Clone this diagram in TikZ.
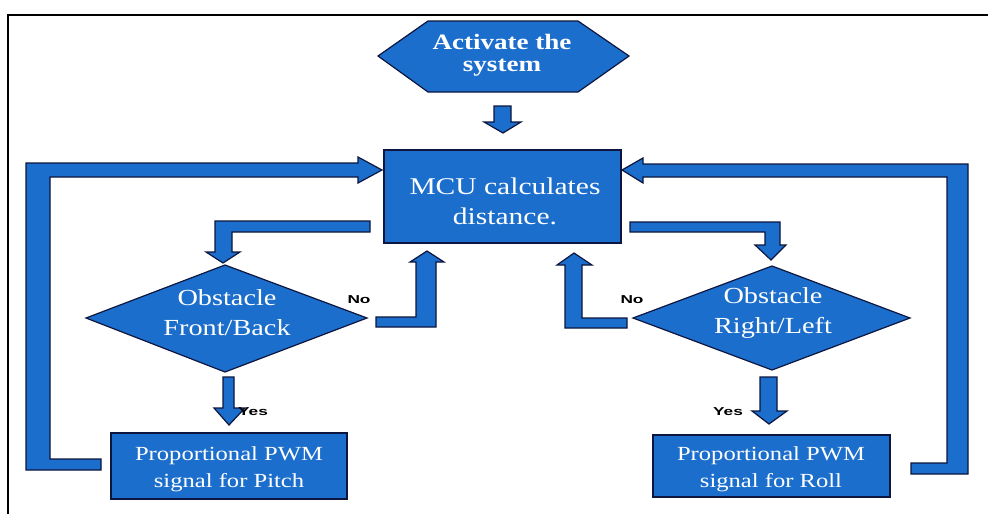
\documentclass[tikz,border=0pt]{standalone}
\usepackage{fontspec}
\setmainfont{Liberation Serif}[FakeStretch=1.23]
\newfontfamily\lblfont{Liberation Sans}[FakeStretch=1.5]
\definecolor{fillblue}{RGB}{28,110,204}
\definecolor{edgenavy}{RGB}{12,22,62}
\tikzset{
  blk/.style={fill=fillblue, draw=edgenavy, line width=1.2pt, line join=miter},
  txt/.style={text=white, align=center, inner sep=0pt},
  lbl/.style={font=\lblfont\bfseries\fontsize{11.5}{12}\selectfont, text=black, inner sep=0pt}
}
\begin{document}
\begin{tikzpicture}[x=1pt,y=-1pt]
\useasboundingbox (0,0) rectangle (988,514);
% frame
\draw[line width=2pt, black] (8,514) -- (8,15) -- (988,15);

% shapes
\draw[blk] (378,56) -- (428,21) -- (578,21) -- (629,56) -- (578,92) -- (428,92) -- cycle;
\draw[blk] (384,150) rectangle (621,243);
\draw[blk] (86,318) -- (225,265) -- (367,318) -- (225,372) -- cycle;
\draw[blk] (633,318) -- (772,266) -- (910,318) -- (772,370) -- cycle;
\draw[blk] (111,433) rectangle (347,499);
\draw[blk] (653,435) rectangle (890,497);

% block arrows
\draw[blk] (494,106) -- (511,106) -- (511,122) -- (521,122) -- (503,133) -- (484,122) -- (494,122) -- cycle;
\draw[blk] (101,459) -- (50,459) -- (50,177) -- (358,177) -- (358,183) -- (382,170) -- (358,157) -- (358,163) -- (26,163) -- (26,470) -- (101,470) -- cycle;
\draw[blk] (911,463) -- (947,463) -- (947,177) -- (643,177) -- (643,183) -- (622,170) -- (643,158) -- (643,164) -- (968,164) -- (968,474) -- (911,474) -- cycle;
\draw[blk] (370,221) -- (215,221) -- (215,252) -- (206,252) -- (223,263) -- (240,252) -- (232,252) -- (232,232) -- (370,232) -- cycle;
\draw[blk] (376,317) -- (416,317) -- (416,262) -- (410,262) -- (427,251) -- (444,262) -- (436,262) -- (436,327) -- (376,327) -- cycle;
\draw[blk] (630,222) -- (780,222) -- (780,245) -- (786,245) -- (771,260) -- (755,245) -- (765,245) -- (765,232) -- (630,232) -- cycle;
\draw[blk] (627,318) -- (582,318) -- (582,265) -- (592,265) -- (574,253) -- (557,265) -- (565,265) -- (565,328) -- (627,328) -- cycle;
\draw[blk] (223,377) -- (234,377) -- (234,408) -- (245,408) -- (229,425) -- (214,408) -- (223,408) -- cycle;
\draw[blk] (760,377) -- (777,377) -- (777,411) -- (787,411) -- (769,424) -- (752,411) -- (760,411) -- cycle;

% texts
\node[txt, font=\bfseries\fontsize{22}{22}\selectfont] (start) at (502,55) {Activate the\\system};
\node[txt, font=\fontsize{24}{30}\selectfont] (mcu) at (505,201) {MCU calculates\\distance.};
\node[txt, font=\fontsize{23}{30}\selectfont] (fb) at (227,313) {Obstacle\\Front/Back};
\node[txt, font=\fontsize{23}{30}\selectfont] (rl) at (773,313) {Obstacle\\Right/Left};
\node[txt, font=\fontsize{20}{27}\selectfont] (pitch) at (229,469) {Proportional PWM\\signal for Pitch};
\node[txt, font=\fontsize{20}{27}\selectfont] (roll) at (771,469) {Proportional PWM\\signal for Roll};

\node[lbl] (no1) at (359,300) {No};
\node[lbl] (no2) at (632,300) {No};
\node[lbl] (yes1) at (253,412) {Yes};
\node[lbl] (yes2) at (728,412) {Yes};
\end{tikzpicture}
\end{document}
